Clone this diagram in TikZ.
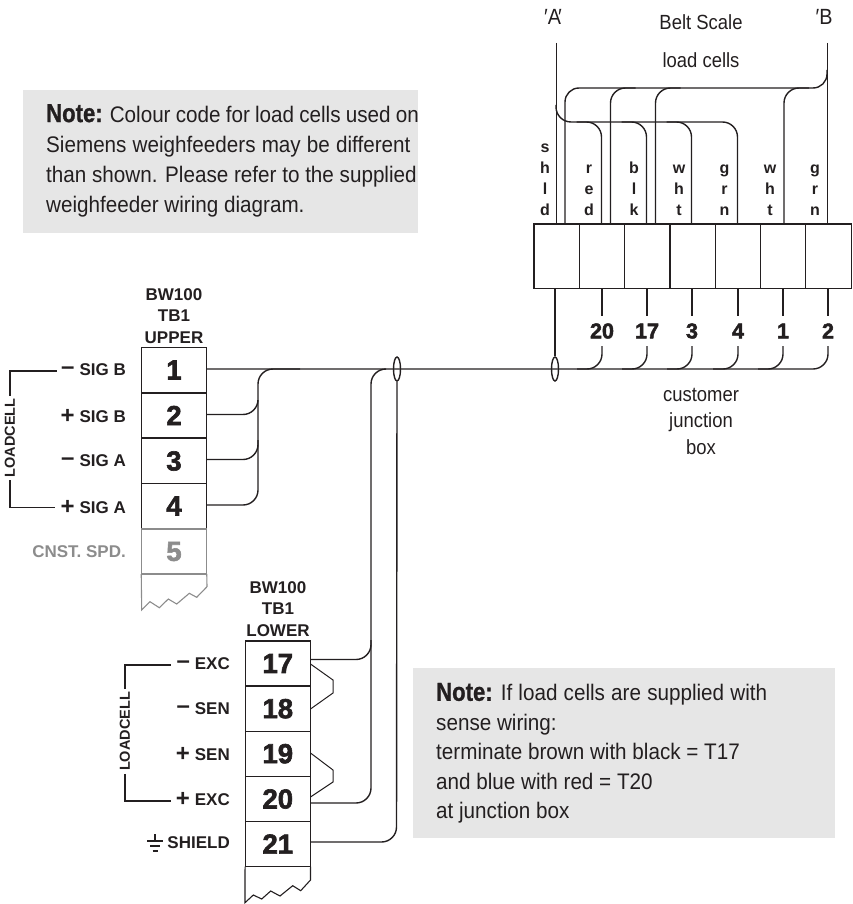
\documentclass[tikz,border=0pt]{standalone}
\usetikzlibrary{shapes.geometric}
\usepackage{fontspec}
\setmainfont{Liberation Sans}
\newfontfamily\narrowfont[FakeStretch=0.9]{Liberation Sans}
\newfontfamily\notefont[FakeStretch=0.918]{Liberation Sans}
\newfontfamily\blackfont[UprightFont=* Bold,FakeBold=2.2]{Liberation Sans}
\newfontfamily\headfont[UprightFont=* Bold,FakeStretch=0.85,FakeBold=1]{Liberation Sans}
\definecolor{ink}{HTML}{231F20}
\definecolor{panelgrey}{HTML}{E6E6E6}
\definecolor{faded}{HTML}{8C8C8C}
\tikzset{
  x=1pt,y=-1pt,
  wire/.style={draw=ink,line width=1.4pt,rounded corners=15pt},
  thinwire/.style={draw=ink,line width=1pt},
  cell/.style={draw=ink,line width=1.1pt,minimum width=65.5pt,minimum height=45pt,inner sep=0pt,outer sep=0pt,
    font=\blackfont\fontsize{27.5}{27.5}\selectfont,text=ink},
  jcell/.style={draw=ink,line width=1.1pt,minimum width=45.3pt,minimum height=64.5pt,inner sep=0pt,outer sep=0pt},
  sig/.style={anchor=east,inner sep=0pt,text=ink,font=\bfseries\fontsize{17}{17}\selectfont},
  hdr/.style={inner sep=0pt,align=center,text=ink,font=\bfseries\fontsize{17}{21.3}\selectfont},
  colr/.style={inner sep=0pt,anchor=south,align=center,text=ink,font=\bfseries\fontsize{16}{21}\selectfont},
  num/.style={inner sep=0pt,text=ink,font=\blackfont\fontsize{21.5}{21.5}\selectfont},
  caption/.style={inner sep=0pt,align=center,text=ink,font=\narrowfont\fontsize{20.5}{26.5}\selectfont},
  lc/.style={inner sep=0pt,outer sep=3pt,rotate=90,text=ink,font=\bfseries\fontsize{14.5}{14.5}\selectfont},
  note/.style={inner sep=0pt,anchor=north west,align=left,text=ink},
  ring/.style={draw=ink,line width=1.4pt,ellipse,minimum width=7pt,minimum height=24pt,inner sep=0pt},
  mark label/.style={inner sep=0pt,text=ink,font=\narrowfont\fontsize{22}{22}\selectfont},
}
\newcommand{\bigplus}{{\fontsize{24}{16}\selectfont\raisebox{-0.5pt}{+}}\kern5pt}
\newcommand{\bigminus}{{\fontsize{24}{16}\selectfont\raisebox{1pt}{–}}\kern5pt}
\newcommand{\notehead}{{\headfont\fontsize{26}{29}\selectfont Note:}}
\begin{document}
\begin{tikzpicture}
\useasboundingbox (0,0) rectangle (852,904);
% note panels
\fill[panelgrey] (23.3,90) rectangle (418,233);
\fill[panelgrey] (413,668) rectangle (835,838);
\node[note,font=\notefont\fontsize{22.5}{30}\selectfont] (n1) at (46,104) {{\spaceskip=5.2pt \notehead{} Colour code for load cells used on}\\{\spaceskip=6.2pt Siemens weighfeeders may be different}\\than shown. Please refer to the supplied\\weighfeeder wiring diagram.};
\node[note,font=\notefont\fontsize{22.5}{29.5}\selectfont] (n2) at (436,682.7) {{\spaceskip=6.2pt \notehead{} If load cells are supplied with}\\sense wiring:\\terminate brown with black = T17\\and blue with red = T20\\at junction box};
% upper terminal block
\node[hdr] (hu) at (174,316) {BW100\\TB1\\UPPER};
\foreach \n/\y in {1/370,2/415.5,3/461,4/506}{
  \node[cell] (u\n) at (174,\y) {\n};
}
\node[cell,draw=faded,text=faded] (u5) at (174,551.5) {5};
\draw[faded,line width=1.1pt] (u5.south west) -- (141.7,610) -- (150,601.7) -- (159.3,607.7) -- (168.3,599) -- (176.7,604) -- (189.3,593.3) -- (196.7,597.3) -- (207,586.7) -- (u5.south east);
\node[sig] (lu1) at (126,370) {\bigminus SIG B};
\node[sig] (lu2) at (126,416) {\bigplus SIG B};
\node[sig] (lu3) at (126,461) {\bigminus SIG A};
\node[sig] (lu4) at (126,507) {\bigplus SIG A};
\node[sig,text=faded] (lu5) at (126,552) {CNST. SPD.};
\node[lc] (lcu) at (10,438) {LOADCELL};
\coordinate (bu1) at (57,371);
\coordinate (bu2) at (55,507.5);
\draw[thinwire,line width=1.2pt] (lcu.east) |- (bu1);
\draw[thinwire,line width=1.2pt] (lcu.west) |- (bu2);
% lower terminal block
\node[hdr] (hl) at (278,609) {BW100\\TB1\\LOWER};
\foreach \n/\y in {17/663.5,18/708.7,19/753.7,20/799,21/844}{
  \node[cell] (l\n) at (277.8,\y) {\n};
}
\draw[ink,line width=1.1pt] (l21.south west) -- (245,902.7) -- (253.3,895) -- (261.7,899) -- (270.7,891) -- (280,896) -- (292.7,885.7) -- (300.7,890.7) -- (310.5,880) -- (l21.south east);
\node[sig] (ll1) at (230,664) {\bigminus EXC};
\node[sig] (ll2) at (230,709) {\bigminus SEN};
\node[sig] (ll3) at (230,754) {\bigplus SEN};
\node[sig] (ll4) at (230,799) {\bigplus EXC};
\node[sig] (ll5) at (230,843) {SHIELD};
\node[lc] (lcl) at (125,731.5) {LOADCELL};
\coordinate (bl1) at (171,665);
\coordinate (bl2) at (171,801);
\draw[thinwire,line width=1.2pt] (lcl.east) |- (bl1);
\draw[thinwire,line width=1.2pt] (lcl.west) |- (bl2);
% ground symbol
\draw[ink,line width=1.4pt] (155,834) -- (155,841) (147,841) -- (163,841) (150,846) -- (160,846) (152.5,851) -- (157.5,851);
% jumpers
\draw[thinwire] (310.5,664) -- (333,680) -- (333,693) -- (310.5,709);
\draw[thinwire] (310.5,753) -- (333,770) -- (333,782) -- (310.5,797);
% junction box
\foreach \i/\x in {1/556.6,2/602,3/647.3,4/692.6,5/737.8,6/783.1,7/828.4}{
  \node[jcell] (j\i) at (\x,256.2) {};
}
% shield rings
\node[ring] (ringJ) at (555,369) {};
\node[ring] (ringT) at (397,369) {};
% main trunk
\coordinate (endT) at (828,346);
\draw[wire] (u1.east |- 0,369) -- (828,369) -- (endT);
\draw[wire] (u2.east |- 0,414.5) -- (258,414.5) -- (258,369) -- (300,369);
\draw[wire] (u3.east |- 0,459.5) -- (258,459.5) -- (258,400);
\draw[wire] (u4.east |- 0,505) -- (258,505) -- (258,440);
\draw[wire] (l17.east |- 0,659.5) -- (371,659.5) -- (371,369) -- (385,369);
\draw[wire] (l20.east |- 0,803) -- (371,803) -- (371,640);
\draw[wire] (l21.east |- 0,842) -- (396.5,842) -- (ringT.south);
% stubs to trunk
\foreach \x/\n in {602/20,647/17,692/3,738/4,783/1}{
  \draw[wire] (\x,346) -- (\x,369) -- (\x-25,369);
}
\draw[thinwire,line width=1.3pt] (ringJ.north) -- (j1.south -| ringJ.north);
% numbers on junction
\foreach \i/\x/\n in {2/602/20,3/647/17,4/692/3,5/738/4,6/783/1,7/828/2}{
  \node[num] (t\n) at (\x,331) {\n};
  \draw[thinwire,line width=1.3pt] (j\i.south -| t\n.north) -- (t\n.north |- 0,316);
}
% top leads
\node[mark label] (cA) at (553,17) {′A\kern-3pt′};
\node[mark label] (cB) at (824,17) {′B};
\node[caption] (belt) at (701,22) {Belt Scale};
\node[caption] (lc) at (701,60) {load cells};
\node[caption] (cjb) at (701,421) {customer\\junction\\box};
\coordinate (tA) at (556,43);
\coordinate (tB) at (827,43);
\draw[thinwire] (tA) -- (tA |- j1.north);
\draw[thinwire] (tB) -- (tB |- j7.north);
% upper bus (B)
\draw[wire,rounded corners=14pt] (565,224) -- (565,88) -- (827,88) -- (827,70);
\foreach \x in {610.5,655.5,784}{
  \draw[wire] (\x,224) -- (\x,88) -- (\x+25,88);
}
% lower bus (A)
\draw[wire] (556,105) -- (556,122) -- (737.5,122) -- (737.5,224);
\foreach \x in {601.5,646.5,691.5}{
  \draw[wire] (\x,224) -- (\x,122) -- (\x-25,122);
}
% colour labels
\node[colr] (c1) at (545,216) {s\\h\\l\\d};
\node[colr] (c2) at (589,216) {r\\e\\d};
\node[colr] (c3) at (634,216) {b\\l\\k};
\node[colr] (c4) at (679,216) {w\\h\\t};
\node[colr] (c5) at (724.5,216) {g\\r\\n};
\node[colr] (c6) at (770,216) {w\\h\\t};
\node[colr] (c7) at (815,216) {g\\r\\n};
\end{tikzpicture}
\end{document}
